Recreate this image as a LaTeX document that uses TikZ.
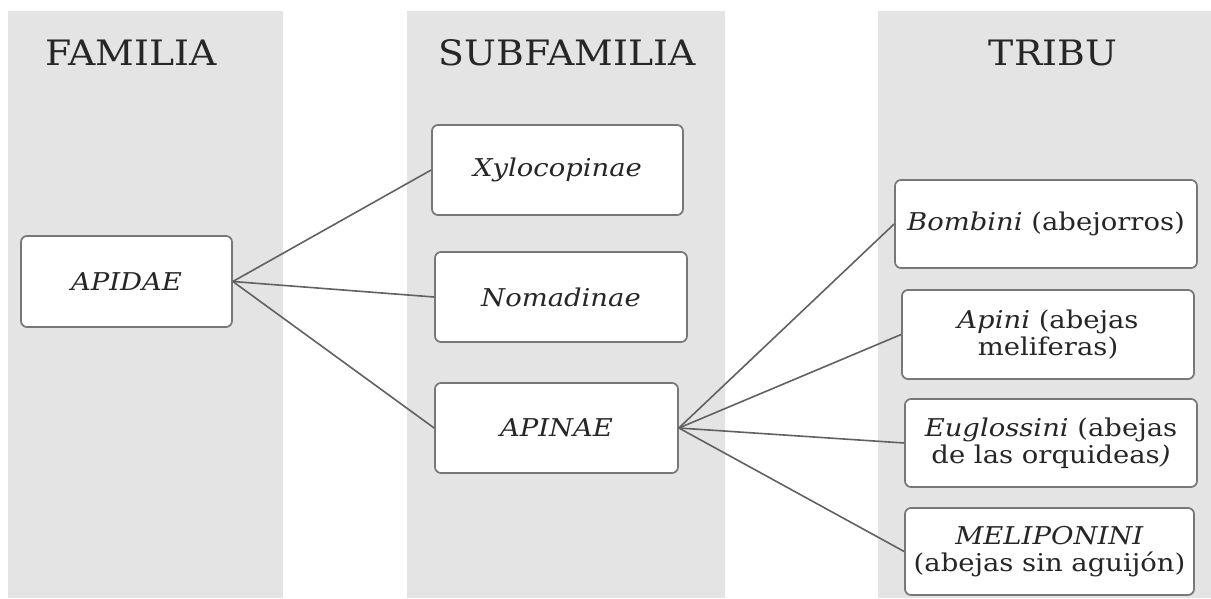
\documentclass[tikz,border=0pt]{standalone}
\usepackage{fontspec}
\setmainfont{DejaVu Serif}
\newfontfamily\hdrfont[FakeStretch=1.08]{DejaVu Serif}
\newfontfamily\boxfont[FakeStretch=1.12]{DejaVu Serif}
\definecolor{colgray}{HTML}{E4E4E4}
\definecolor{edgegray}{HTML}{777777}
\definecolor{linegray}{HTML}{616161}
\definecolor{txt}{HTML}{262626}
\begin{document}
\begin{tikzpicture}[x=1pt,y=-1pt,
  header/.style={anchor=base,text=txt,font=\hdrfont\fontsize{35}{40}\selectfont},
  taxbox/.style={draw=edgegray,line width=1.7pt,fill=white,rounded corners=6pt,
    text=txt,align=center,inner sep=0pt,font=\boxfont\fontsize{24.5}{26.5}\selectfont},
  link/.style={draw=linegray,line width=1.6pt}]
\useasboundingbox (0,0) rectangle (1211,598);
\fill[white] (0,0) rectangle (1211,598);
% columns
\fill[colgray] (8,11) rectangle (283,598);
\fill[colgray] (407,11) rectangle (725,598);
\fill[colgray] (878,11) rectangle (1211,598);
% headers
\node[header] (hfam) at (131,65) {FAMILIA};
\node[header] (hsub) at (567,65) {SUBFAMILIA};
\node[header] (htri) at (1053,65) {TRIBU};
% boxes
\node[taxbox,minimum width=211pt,minimum height=91pt] (apidae) at (126.5,281.5) {\textit{APIDAE}};
\node[taxbox,minimum width=251pt,minimum height=90pt] (xylo) at (557.5,170) {\textit{Xylocopinae}};
\node[taxbox,minimum width=252pt,minimum height=90pt] (noma) at (561,297) {\textit{Nomadinae}};
\node[taxbox,minimum width=243pt,minimum height=90pt] (apinae) at (556.5,428) {\textit{APINAE}};
\node[taxbox,minimum width=302pt,minimum height=88pt] (bomb) at (1046,224) {\textit{Bombini} (abejorros)};
\node[taxbox,minimum width=292pt,minimum height=89pt] (apini) at (1048,334.5) {\textit{Apini} (abejas\\meliferas)};
\node[taxbox,minimum width=292pt,minimum height=88pt] (eugl) at (1051,443) {\textit{Euglossini} (abejas\\de las orquideas\textit{)}};
\node[taxbox,minimum width=289pt,minimum height=87pt] (meli) at (1049.5,551.5) {\textit{MELIPONINI}\\(abejas sin aguijón)};
% connectors
\draw[link] (apidae.east) -- (xylo.west);
\draw[link] (apidae.east) -- (noma.west);
\draw[link] (apidae.east) -- (apinae.west);
\draw[link] (apinae.east) -- (bomb.west);
\draw[link] (apinae.east) -- (apini.west);
\draw[link] (apinae.east) -- (eugl.west);
\draw[link] (apinae.east) -- (meli.west);
\end{tikzpicture}
\end{document}
